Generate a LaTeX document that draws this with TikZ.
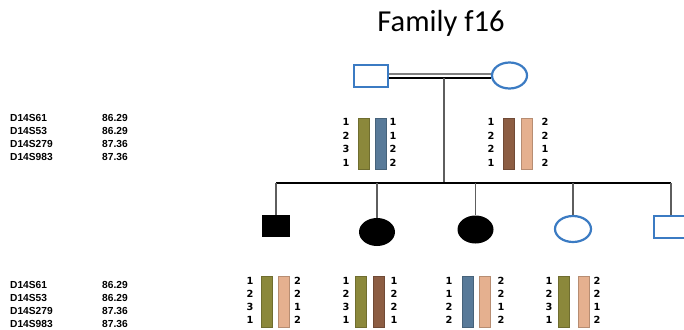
\documentclass[tikz,border=0pt]{standalone}
\usepackage{fontspec}
\setmainfont{Liberation Sans}
\newfontfamily\titlefont{Carlito}
\newfontfamily\numfont{DejaVu Sans}
\usetikzlibrary{shapes.geometric}

\definecolor{pedBlue}{HTML}{3B7BC3}
\definecolor{hapOlive}{HTML}{8B883B}
\definecolor{hapBlue}{HTML}{587A99}
\definecolor{hapBrown}{HTML}{8C5D43}
\definecolor{hapPeach}{HTML}{E5B08F}
\definecolor{dropGray}{HTML}{5E5E5E}

\tikzset{
  malebox/.style={draw=pedBlue, line width=2.2pt, minimum width=34pt, minimum height=22pt, inner sep=0pt},
  femalebox/.style={ellipse, draw=pedBlue, line width=2.2pt, minimum width=35pt, minimum height=26pt, inner sep=0pt},
  affmale/.style={fill=black, minimum width=28pt, minimum height=22pt, inner sep=0pt},
  afffemale/.style={ellipse, fill=black, minimum width=36pt, minimum height=28pt, inner sep=0pt},
  hapbar/.style={draw=#1!80!black, fill=#1, line width=0.6pt, minimum width=11pt, minimum height=51pt, inner sep=0pt},
  allelesP/.style={align=center, inner sep=0pt, font=\numfont\bfseries\fontsize{9.8}{13.5}\selectfont},
  allelesC/.style={align=center, inner sep=0pt, font=\numfont\bfseries\fontsize{9.8}{13}\selectfont},
  markers/.style={anchor=west, align=left, inner sep=0pt, font=\bfseries\fontsize{10.2}{12.7}\selectfont},
  sibline/.style={black, line width=1.2pt},
  dropline/.style={dropGray, line width=1.4pt},
}

\begin{document}
\begin{tikzpicture}[x=1pt, y=-1pt]
\clip (0,0) rectangle (684,329);
\fill[white] (0,0) rectangle (684,329);

% title
\node[anchor=base, inner sep=0pt, font=\titlefont\fontsize{30.5}{33}\selectfont] (title) at (441,31) {Family f16};

% parents
\node[malebox] (father) at (371,76) {};
\node[femalebox] (mother) at (509.5,75.5) {};
\draw[black, line width=1.2pt] ([yshift=-2pt]father.east) -- ([yshift=-2pt]father.east -| mother.west);
\draw[gray, line width=1.2pt] ([yshift=2pt]father.east) -- ([yshift=2pt]father.east -| mother.west);
\coordinate (mate) at (444,78);
\coordinate (sib) at (444,183);
\draw[dropline] (mate) -- (sib);

% children
\node[affmale] (c1) at (276,226) {};
\node[afffemale] (c2) at (377,232) {};
\node[afffemale] (c3) at (475.5,229.5) {};
\node[femalebox, minimum width=36pt] (c4) at (573,229) {};
\node[malebox] (c5) at (671,227) {};

\draw[sibline] (c1 |- sib) -- (c5 |- sib);
\foreach \c in {c1,c2,c3,c4,c5}
  \draw[dropline] (\c |- sib) -- (\c.north);

% marker names and positions
\node[markers] (mkA) at (10,137.5) {D14S61\\D14S53\\D14S279\\D14S983};
\node[markers] (posA) at (102,137.5) {86.29\\86.29\\87.36\\87.36};
\node[markers] (mkB) at (10,304.5) {D14S61\\D14S53\\D14S279\\D14S983};
\node[markers] (posB) at (102,304.5) {86.29\\86.29\\87.36\\87.36};

% parental haplotypes
\node[allelesP] (fL) at (346,142.5) {1\\2\\3\\1};
\node[hapbar=hapOlive] (fH1) at (363.5,143.5) {};
\node[hapbar=hapBlue] (fH2) at (380.5,143.5) {};
\node[allelesP] (fR) at (393,142.5) {1\\1\\2\\2};

\node[allelesP] (mL) at (491,142.5) {1\\2\\2\\1};
\node[hapbar=hapBrown] (mH1) at (508.5,143.5) {};
\node[hapbar=hapPeach] (mH2) at (526.5,143.5) {};
\node[allelesP] (mR) at (545,142.5) {2\\2\\1\\2};

% offspring haplotypes
\node[allelesC] (c1L) at (250,300.5) {1\\2\\3\\1};
\node[hapbar=hapOlive] (c1H1) at (266.5,301.5) {};
\node[hapbar=hapPeach] (c1H2) at (283.5,301.5) {};
\node[allelesC] (c1R) at (297.5,300.5) {2\\2\\1\\2};

\node[allelesC] (c2L) at (346,300.5) {1\\2\\3\\1};
\node[hapbar=hapOlive] (c2H1) at (361,301.5) {};
\node[hapbar=hapBrown] (c2H2) at (378.5,301.5) {};
\node[allelesC] (c2R) at (394,300.5) {1\\2\\2\\1};

\node[allelesC] (c3L) at (449,300.5) {1\\1\\2\\2};
\node[hapbar=hapBlue] (c3H1) at (467.5,301.5) {};
\node[hapbar=hapPeach] (c3H2) at (485,301.5) {};
\node[allelesC] (c3R) at (501,300.5) {2\\2\\1\\2};

\node[allelesC] (c4L) at (549,300.5) {1\\2\\3\\1};
\node[hapbar=hapOlive] (c4H1) at (563.5,301.5) {};
\node[hapbar=hapPeach] (c4H2) at (583.5,301.5) {};
\node[allelesC] (c4R) at (597,300.5) {2\\2\\1\\2};
\end{tikzpicture}
\end{document}
